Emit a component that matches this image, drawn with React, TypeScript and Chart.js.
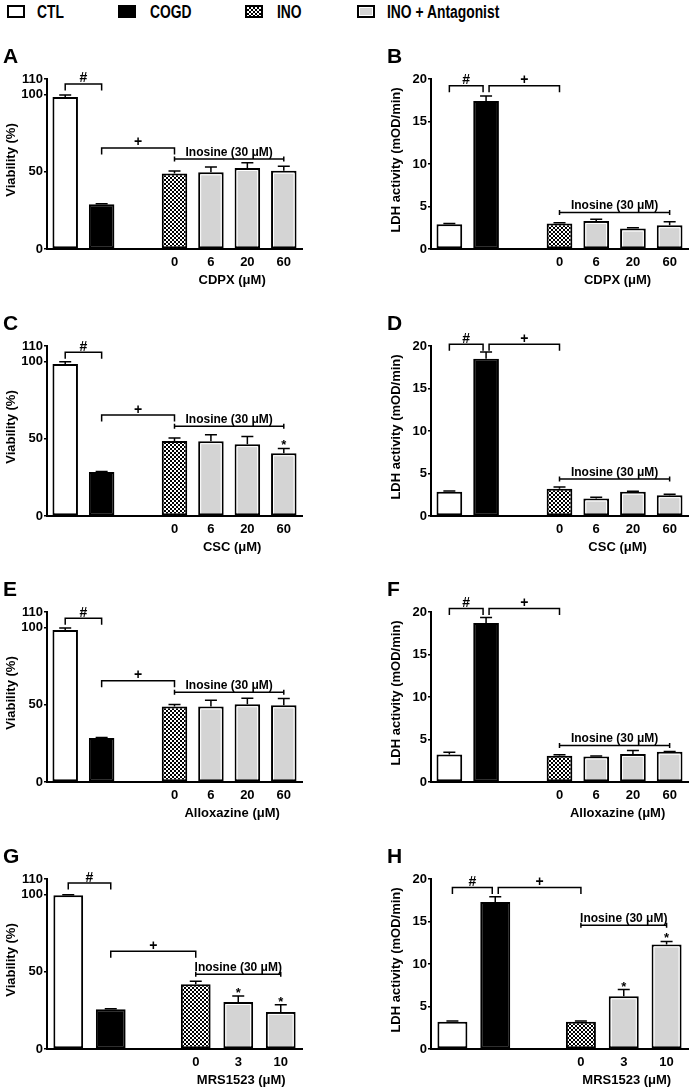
import React, { useEffect, useRef } from 'react';
import { Chart, registerables } from 'chart.js';

Chart.register(...registerables);

const FONT = '"Liberation Sans", Arial, Helvetica, sans-serif';

// ---------------- data ----------------
const legendLabels = ['CTL', 'COGD', 'INO', 'INO + Antagonist'];
const groupKinds4 = ['ctl', 'cogd', 'gap', 'ino', 'ant', 'ant', 'ant'];
const groupKinds3 = ['ctl', 'cogd', 'gap', 'ino', 'ant', 'ant'];
const doseLabels4 = ['', '', '', '0', '6', '20', '60'];
const doseLabelsMRS = ['', '', '', '0', '3', '10'];
const viabilityTicks = [0, 50, 100, 110];
const ldhTicks = [0, 5, 10, 15, 20];
const antagonistTitles = ['CDPX (μM)', 'CSC (μM)', 'Alloxazine (μM)', 'MRS1523 (μM)'];
const yTitles = ['Viability (%)', 'LDH activity (mOD/min)'];
const inosineLabel = 'Inosine (30 μM)';
const panelLetters = ['A', 'B', 'C', 'D', 'E', 'F', 'G', 'H'];

const viabCDPX = [98.4, 28.9, null, 48.9, 49.6, 52.4, 50.6];
const viabCDPXErr = [1.2, 0.4, null, 1.5, 3.4, 3.4, 2.9];
const ldhCDPX = [2.9, 17.4, null, 3.0, 3.3, 2.4, 2.8];
const ldhCDPXErr = [0.1, 0.6, null, 0.1, 0.2, 0.1, 0.4];
const viabCSC = [98.3, 28.5, null, 48.6, 48.4, 46.5, 40.6];
const viabCSCErr = [1.5, 0.3, null, 1.8, 4.1, 4.9, 3.1];
const ldhCSC = [2.85, 18.5, null, 3.2, 2.05, 2.85, 2.45];
const ldhCSCErr = [0.1, 0.8, null, 0.2, 0.15, 0.05, 0.1];
const viabAllox = [98.4, 28.5, null, 48.8, 48.8, 50.3, 49.6];
const viabAlloxErr = [1.3, 0.3, null, 1.3, 4.1, 3.9, 4.4];
const ldhAllox = [3.25, 18.7, null, 3.1, 3.0, 3.3, 3.55];
const ldhAlloxErr = [0.25, 0.65, null, 0.1, 0.05, 0.4, 0.05];
const viabMRS = [99.5, 25.7, null, 41.9, 30.4, 24.0];
const viabMRSErr = [0.3, 0.3, null, 1.9, 3.9, 4.7];
const ldhMRS = [3.2, 17.3, null, 3.2, 6.2, 12.3];
const ldhMRSErr = [0.1, 0.6, null, 0.1, 0.8, 0.35];

// bars marked with * (index into the category arrays)
const starsCSCViab = [6];
const starsMRSViab = [4, 5];
const starsMRSLdh = [4, 5];

// annotation levels, in data units, one per panel A..H
const hashLevels = [106.8, 19.2, 106, 20.2, 106, 20.4, 107.4, 19.0];
const plusLevels = [65.4, 19.2, 65.3, 20.2, 65.5, 20.4, 63.2, 19.0];
const inosineLevels = [58.3, 4.3, 58, 4.35, 58, 4.3, 48.3, 14.55];

// ---------------- layout ----------------
const ROW_ZERO = [249, 516, 782, 1049];
const CANVAS_H = 250;
const ZERO_IN_CANVAS = 210;
const PLOT_H = 170;

type PanelSpec = {
  letter: string;
  row: number;
  col: number;
  ldh: boolean;
  labels: string[];
  kinds: string[];
  values: (number | null)[];
  errors: (number | null)[];
  stars: number[];
  xTitle: string;
  hash: number;
  plus: number;
  ino: number;
};

const dataSets = [
  [viabCDPX, viabCDPXErr, ldhCDPX, ldhCDPXErr],
  [viabCSC, viabCSCErr, ldhCSC, ldhCSCErr],
  [viabAllox, viabAlloxErr, ldhAllox, ldhAlloxErr],
  [viabMRS, viabMRSErr, ldhMRS, ldhMRSErr],
];
const starSets = [[[], []], [starsCSCViab, []], [[], []], [starsMRSViab, starsMRSLdh]];

const panels: PanelSpec[] = [];
for (let r = 0; r < 4; r++) {
  for (let c = 0; c < 2; c++) {
    const idx = r * 2 + c;
    const mrs = r === 3;
    panels.push({
      letter: panelLetters[idx],
      row: r,
      col: c,
      ldh: c === 1,
      labels: mrs ? doseLabelsMRS : doseLabels4,
      kinds: mrs ? groupKinds3 : groupKinds4,
      values: dataSets[r][c * 2] as (number | null)[],
      errors: dataSets[r][c * 2 + 1] as (number | null)[],
      stars: starSets[r][c] as number[],
      xTitle: antagonistTitles[r],
      hash: hashLevels[idx],
      plus: plusLevels[idx],
      ino: inosineLevels[idx],
    });
  }
}

function makeChecker(): HTMLCanvasElement {
  const pc = document.createElement('canvas');
  pc.width = 4;
  pc.height = 4;
  const g = pc.getContext('2d')!;
  g.fillStyle = '#fff';
  g.fillRect(0, 0, 4, 4);
  g.fillStyle = '#000';
  g.fillRect(0, 0, 2, 2);
  g.fillRect(2, 2, 2, 2);
  return pc;
}

function decorPlugin(p: PanelSpec, geom: { letterX: number; yTitleX: number }) {
  return {
    id: 'panelDecor',
    afterDatasetsDraw(chart: any) {
      const { ctx } = chart;
      const y = chart.scales.y;
      const meta = chart.getDatasetMeta(0);
      ctx.save();
      meta.data.forEach((el: any, i: number) => {
        const v = p.values[i];
        if (v == null) return;
        const b = el.getProps(['x', 'y', 'base', 'width'], true);
        if (p.kinds[i] === 'ant') {
          const l = b.x - b.width / 2 + 2.5;
          const rr = b.x + b.width / 2 - 2.5;
          const t = b.y + 2.5;
          ctx.strokeStyle = '#fff';
          ctx.lineWidth = 1;
          ctx.beginPath();
          ctx.moveTo(l, b.base - 2);
          ctx.lineTo(l, t);
          ctx.lineTo(rr, t);
          ctx.lineTo(rr, b.base - 2);
          ctx.stroke();
        }
        const e = p.errors[i];
        if (e != null && e > 0) {
          const ty = y.getPixelForValue(v + e);
          ctx.strokeStyle = '#000';
          ctx.lineWidth = 1.5;
          ctx.beginPath();
          ctx.moveTo(b.x, b.y);
          ctx.lineTo(b.x, ty);
          ctx.moveTo(b.x - 6, ty);
          ctx.lineTo(b.x + 6, ty);
          ctx.stroke();
        }
      });
      ctx.restore();
    },
    afterDraw(chart: any) {
      const { ctx } = chart;
      const x = chart.scales.x;
      const y = chart.scales.y;
      const bottom = chart.chartArea.bottom;
      const cx = (i: number) => x.getPixelForValue(i);
      const last = p.values.length - 1;
      ctx.save();
      ctx.fillStyle = '#000';
      ctx.strokeStyle = '#000';
      ctx.lineWidth = 1.5;

      // panel letter
      ctx.font = `bold 21px ${FONT}`;
      ctx.textAlign = 'left';
      ctx.textBaseline = 'alphabetic';
      ctx.fillText(p.letter, geom.letterX, bottom - 186);

      // y title
      ctx.font = `bold 13px ${FONT}`;
      ctx.save();
      ctx.translate(geom.yTitleX, bottom - 89);
      ctx.rotate(-Math.PI / 2);
      ctx.textAlign = 'center';
      ctx.textBaseline = 'middle';
      ctx.fillText(p.ldh ? yTitles[1] : yTitles[0], 0, 0);
      ctx.restore();

      // x title
      ctx.textAlign = 'center';
      ctx.textBaseline = 'alphabetic';
      ctx.fillText(p.xTitle, (cx(3) + cx(last)) / 2 + 3, bottom + 35);

      // brackets
      const leg = 6.5;
      const split = p.ldh ? 3 : 0;
      const bracket = (x1: number, x2: number, yy: number, label: string) => {
        ctx.beginPath();
        ctx.moveTo(x1, yy + leg);
        ctx.lineTo(x1, yy);
        ctx.lineTo(x2, yy);
        ctx.lineTo(x2, yy + leg);
        ctx.stroke();
        ctx.font = `bold 14px ${FONT}`;
        ctx.textAlign = 'center';
        ctx.fillText(label, (x1 + x2) / 2, yy - 1.5);
      };
      bracket(cx(0), cx(1) - split, y.getPixelForValue(p.hash), '#');
      bracket(cx(1) + split, cx(3), y.getPixelForValue(p.plus), '+');

      // inosine line
      const iy = y.getPixelForValue(p.ino);
      const ix1 = cx(3);
      const ix2 = cx(last);
      ctx.beginPath();
      ctx.moveTo(ix1, iy);
      ctx.lineTo(ix2, iy);
      ctx.moveTo(ix1, iy - 2.5);
      ctx.lineTo(ix1, iy + 2.5);
      ctx.moveTo(ix2, iy - 2.5);
      ctx.lineTo(ix2, iy + 2.5);
      ctx.stroke();
      ctx.font = `bold 12px ${FONT}`;
      ctx.fillText(inosineLabel, (ix1 + ix2) / 2, iy - 3);

      // stars
      ctx.font = `bold 13px ${FONT}`;
      p.stars.forEach((i) => {
        const v = p.values[i] as number;
        const e = (p.errors[i] as number) || 0;
        ctx.fillText('*', cx(i), y.getPixelForValue(v + e) + 1);
      });
      ctx.restore();
    },
  };
}

function Panel({ spec }: { spec: PanelSpec }) {
  const ref = useRef<HTMLCanvasElement>(null);
  const left = spec.col === 0 ? 0 : 345;
  const width = spec.col === 0 ? 345 : 348;
  const top = ROW_ZERO[spec.row] - ZERO_IN_CANVAS;
  const yw = spec.col === 0 ? 47 : 86;
  const padRight = spec.col === 0 ? 43 : 5;
  const geom = spec.col === 0 ? { letterX: 3, yTitleX: 11 } : { letterX: 42, yTitleX: 51 };

  useEffect(() => {
    const canvas = ref.current!;
    const ctx = canvas.getContext('2d')!;
    const pattern = ctx.createPattern(makeChecker(), 'repeat');
    const fillFor = (k: string) =>
      k === 'ctl' ? '#ffffff' : k === 'cogd' ? '#000000' : k === 'ino' ? pattern : k === 'ant' ? '#d4d4d4' : 'rgba(0,0,0,0)';
    const tickVals = spec.ldh ? ldhTicks : viabilityTicks;
    const tickFont = { family: FONT, size: 13, weight: 'bold' as const };
    const chart = new Chart(canvas, {
      type: 'bar',
      data: {
        labels: spec.labels,
        datasets: [
          {
            data: spec.values as any,
            backgroundColor: spec.kinds.map(fillFor) as any,
            borderColor: '#000',
            borderWidth: 2,
            borderSkipped: false,
            barPercentage: 0.7,
            categoryPercentage: 1,
          },
        ],
      },
      options: {
        animation: false,
        responsive: false,
        devicePixelRatio: 1,
        events: [],
        layout: { padding: { top: ZERO_IN_CANVAS - PLOT_H, right: padRight, left: 0, bottom: 0 } },
        plugins: { legend: { display: false }, tooltip: { enabled: false }, title: { display: false } },
        scales: {
          x: {
            grid: { display: false, drawTicks: false },
            border: { display: true, color: '#000', width: 2 },
            ticks: { color: '#000', font: tickFont, padding: 6, autoSkip: false, maxRotation: 0 },
            afterFit: (s: any) => {
              s.height = CANVAS_H - ZERO_IN_CANVAS;
            },
          },
          y: {
            min: 0,
            max: tickVals[tickVals.length - 1],
            grid: { display: true, drawOnChartArea: false, drawTicks: true, tickLength: 3, color: '#000', lineWidth: 1.5 },
            border: { display: true, color: '#000', width: 2 },
            ticks: { color: '#000', font: tickFont, padding: 1 },
            afterBuildTicks: (s: any) => {
              s.ticks = tickVals.map((v) => ({ value: v }));
            },
            afterFit: (s: any) => {
              s.width = yw;
            },
          },
        },
      },
      plugins: [decorPlugin(spec, geom)],
    } as any);
    return () => chart.destroy();
  }, []);

  return (
    <canvas
      ref={ref}
      width={width}
      height={CANVAS_H}
      style={{ position: 'absolute', left, top, width, height: CANVAS_H }}
    />
  );
}

const swatchX = [7, 118, 245, 357];
const legendTextX = [37, 150, 277, 387];

function Legend() {
  const swatchStyle = (i: number): React.CSSProperties => {
    const base: React.CSSProperties = {
      position: 'absolute',
      left: swatchX[i],
      top: 5,
      width: 18,
      height: 13,
      boxSizing: 'border-box',
      border: '2px solid #000',
    };
    if (i === 0) return { ...base, background: '#fff' };
    if (i === 1) return { ...base, background: '#000' };
    if (i === 2)
      return {
        ...base,
        background: 'repeating-conic-gradient(#000 0% 25%, #fff 0% 50%) 0 0 / 4px 4px',
      };
    return { ...base, background: '#d4d4d4', boxShadow: 'inset 0 0 0 1px #fff' };
  };
  return (
    <>
      {legendLabels.map((lab, i) => (
        <React.Fragment key={lab}>
          <div style={swatchStyle(i)} />
          <div
            style={{
              position: 'absolute',
              left: legendTextX[i],
              top: 3,
              font: `bold 18px ${FONT}`,
              lineHeight: '18px',
              whiteSpace: 'nowrap',
              transform: 'scaleX(0.77)',
              transformOrigin: 'left top',
              color: '#000',
            }}
          >
            {lab}
          </div>
        </React.Fragment>
      ))}
    </>
  );
}

export default function App() {
  return (
    <div
      style={{
        position: 'fixed',
        left: 0,
        top: 0,
        width: 693,
        height: 1089,
        overflow: 'hidden',
        background: '#fff',
      }}
    >
      <Legend />
      {panels.map((p) => (
        <Panel key={p.letter} spec={p} />
      ))}
    </div>
  );
}
